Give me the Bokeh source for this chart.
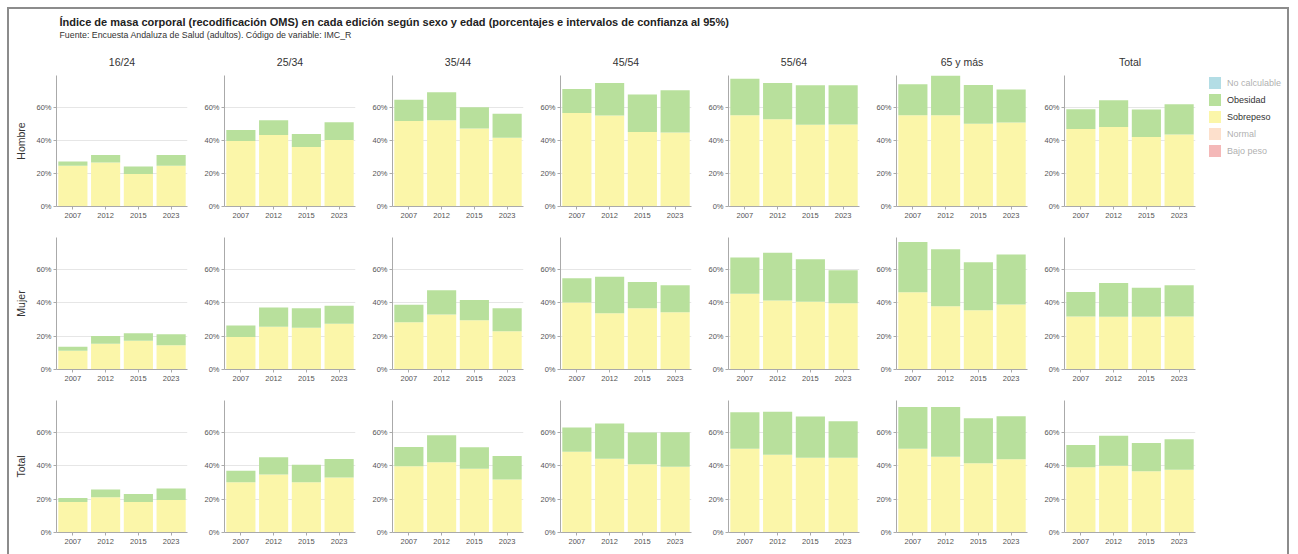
from bokeh.plotting import figure
from bokeh.models import (ColumnDataSource, Range1d, FactorRange, FixedTicker,
                          PrintfTickFormatter, Legend, LegendItem)
from bokeh.layouts import column, row
from bokeh.core.properties import value
from bokeh.embed import file_html
from bokeh.resources import INLINE

# ---------------- data ----------------
title_text = ("Índice de masa corporal (recodificación OMS) en cada edición según sexo y edad "
              "(porcentajes e intervalos de confianza al 95%)")
subtitle_text = "Fuente: Encuesta Andaluza de Salud (adultos). Código de variable: IMC_R"

years = ["2007", "2012", "2015", "2023"]
age_groups = ["16/24", "25/34", "35/44", "45/54", "55/64", "65 y más", "Total"]
sexes = ["Hombre", "Mujer", "Total"]
y_ticks = [0, 20, 40, 60]
legend_labels = ["No calculable", "Obesidad", "Sobrepeso", "Normal", "Bajo peso"]

# Sobrepeso / Obesidad (%) per age group
sob_hombre = [[24.6, 26.6, 19.6, 24.6], [39.6, 43.2, 36.0, 40.2], [51.7, 52.1, 47.1, 41.6],
              [56.6, 55.0, 45.1, 44.8], [55.2, 52.8, 49.4, 49.6], [55.2, 55.2, 50.0, 50.8],
              [46.8, 48.0, 42.0, 43.6]]
ob_hombre = [[2.6, 4.6, 4.6, 6.6], [6.6, 9.0, 7.8, 10.8], [12.9, 17.0, 12.9, 14.4],
             [14.5, 19.7, 22.6, 25.5], [22.1, 21.9, 23.9, 23.7], [18.7, 24.3, 23.5, 19.9],
             [12.0, 16.2, 16.6, 18.2]]
sob_mujer = [[11.3, 15.5, 17.3, 14.5], [19.5, 25.6, 25.0, 27.4], [28.4, 33.0, 29.6, 22.9],
             [40.2, 33.8, 36.8, 34.4], [45.5, 41.4, 40.6, 39.8], [46.3, 38.0, 35.6, 39.0],
             [31.8, 31.6, 31.6, 31.8]]
ob_mujer = [[2.4, 4.6, 4.4, 6.6], [6.9, 11.6, 11.8, 10.8], [10.4, 14.5, 12.1, 13.9],
            [14.5, 21.9, 15.7, 16.1], [21.7, 28.6, 25.6, 19.8], [30.2, 34.2, 28.8, 30.0],
            [14.7, 20.3, 17.5, 18.7]]
sob_total = [[18.3, 21.1, 18.3, 19.5], [30.2, 34.8, 30.2, 33.0], [39.8, 42.1, 38.2, 31.8],
             [48.5, 44.3, 41.0, 39.4], [50.3, 46.7, 44.9, 44.9], [50.3, 45.5, 41.6, 43.9],
             [39.2, 40.0, 36.8, 37.6]]
ob_total = [[2.4, 4.7, 4.8, 6.9], [6.8, 10.3, 10.4, 11.1], [11.5, 16.2, 12.9, 14.1],
            [14.5, 21.1, 19.0, 20.8], [21.9, 25.7, 24.7, 21.9], [25.0, 29.8, 27.0, 25.9],
            [13.3, 18.0, 16.9, 18.3]]

sob_by_sex = [sob_hombre, sob_mujer, sob_total]
ob_by_sex = [ob_hombre, ob_mujer, ob_total]

# ---------------- style ----------------
FONT = "Liberation Sans"
C_SOB = "#fbf6a9"
C_OB = "#b8e09c"
legend_colors = ["#41aabe", C_OB, C_SOB, "#fab280", "#e44e4e"]
legend_active = [False, True, True, False, False]

FRAME_W, FRAME_H = 131, 132
Y_MAX = 79.2
CONTENT_W = 1278
HEADER_H = 36
TOP1, TOPN, BOTTOM = 29, 8, 23

# ---------------- header ----------------
header = figure(width=CONTENT_W, height=HEADER_H, x_range=Range1d(0, CONTENT_W),
                y_range=Range1d(HEADER_H, 0), output_backend="svg", toolbar_location=None,
                x_axis_location=None, y_axis_location=None, min_border=0)
header.grid.visible = False
header.outline_line_color = None
header.text(x=[50], y=[12], text=[title_text], text_font=value(FONT), text_font_style="bold",
            text_font_size="11px", text_color="#222222", text_baseline="middle")
header.text(x=[50], y=[25], text=[subtitle_text], text_font=value(FONT),
            text_font_size="8.8px", text_color="#333333", text_baseline="middle")


def panel(r, c):
    left = 47 if c == 0 else 33
    right = 4
    top = TOP1 if r == 0 else TOPN
    p = figure(width=left + FRAME_W + right, height=top + FRAME_H + BOTTOM,
               x_range=FactorRange(*years, range_padding=0),
               y_range=Range1d(0, Y_MAX), output_backend="svg", toolbar_location=None,
               min_border_left=left, min_border_right=right,
               min_border_top=top, min_border_bottom=BOTTOM,
               title=age_groups[c] if r == 0 else None)
    src = ColumnDataSource(dict(year=years, sobrepeso=sob_by_sex[r][c], obesidad=ob_by_sex[r][c]))
    p.vbar_stack(["sobrepeso", "obesidad"], x="year", width=0.89, source=src,
                 fill_color=[C_SOB, C_OB], line_color=None)
    if r == 0:
        p.title.align = "center"
        p.title.text_font = FONT
        p.title.text_font_style = "normal"
        p.title.text_font_size = "10.5px"
        p.title.text_color = "#333333"
        p.title.standoff = 16
    p.outline_line_color = None
    p.xgrid.visible = False
    p.ygrid.grid_line_color = "#e6e6e6"
    p.yaxis.ticker = FixedTicker(ticks=y_ticks)
    p.yaxis.formatter = PrintfTickFormatter(format="%d%%")
    for ax in (p.xaxis[0], p.yaxis[0]):
        ax.axis_line_color = "#aaaaaa"
        ax.major_tick_line_color = "#aaaaaa"
        ax.major_tick_out = 3
        ax.major_tick_in = 0
        ax.minor_tick_line_color = None
        ax.major_label_text_font = FONT
        ax.major_label_text_font_size = "7.5px"
        ax.major_label_text_color = "#555555"
        ax.major_label_standoff = 2
    p.xaxis.major_label_standoff = 3
    if c == 0:
        p.yaxis.axis_label = sexes[r]
        p.yaxis.axis_label_text_font = FONT
        p.yaxis.axis_label_text_font_size = "10.5px"
        p.yaxis.axis_label_text_font_style = "normal"
        p.yaxis.axis_label_text_color = "#333333"
        p.yaxis.axis_label_standoff = 6
    return p


rows = []
for r in range(len(sexes)):
    figs = [panel(r, c) for c in range(len(age_groups))]
    if r == 0:
        lw = CONTENT_W - sum(f.width for f in figs)
        lg = figure(width=lw, height=TOP1 + FRAME_H + BOTTOM, x_range=FactorRange(*years),
                    y_range=Range1d(0, 1), output_backend="svg", toolbar_location=None,
                    x_axis_location=None, y_axis_location=None,
                    min_border_left=8, min_border_right=0, min_border_top=TOP1,
                    min_border_bottom=BOTTOM)
        lg.grid.visible = False
        lg.outline_line_color = None
        items = []
        for lab, col, act in zip(legend_labels, legend_colors, legend_active):
            rr = lg.vbar(x=[years[0]], top=[0], width=0.9, fill_color=col, line_color=None)
            rr.visible = act
            items.append(LegendItem(label=lab, renderers=[rr]))
        leg = Legend(items=items, location="top_left", margin=0, padding=0, spacing=2,
                     glyph_width=15, glyph_height=15, label_height=15, label_standoff=5,
                     label_text_font=FONT, label_text_font_size="9px", label_text_color="#333333",
                     border_line_color=None, background_fill_alpha=0,
                     inactive_fill_color="white", inactive_fill_alpha=0.6,
                     click_policy="hide")
        lg.add_layout(leg)
        figs.append(lg)
    rows.append(row(*figs))

layout = column(header, *rows, margin=(7, 0, 0, 7),
                styles={"border": "2px solid #8c8c8c", "box-sizing": "content-box"})

open("out.html", "w").write(file_html(layout, INLINE))
